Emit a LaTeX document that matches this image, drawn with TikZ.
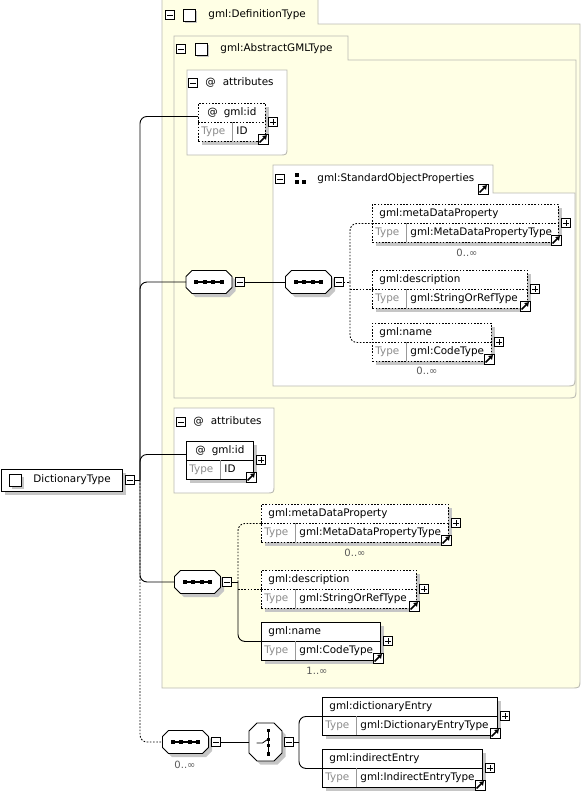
\documentclass[tikz,border=0pt]{standalone}
\usepackage{fontspec}
\setmainfont{DejaVu Sans}
\usetikzlibrary{arrows.meta,shadows}

\definecolor{schemabg}{RGB}{255,255,229}
\definecolor{frame}{RGB}{186,186,178}
\definecolor{shade}{RGB}{198,198,198}

\tikzstyle{txt}=[
	font=\fontsize{10.4}{12}\selectfont,
	inner sep=0pt,
	text height=7pt,
	text depth=2pt,
	anchor=west
]
\tikzstyle{greytxt}=[txt, text=black!45]
\tikzstyle{occurs}=[font=\fontsize{10}{12}\selectfont, inner sep=0pt, text=black!65]
\tikzstyle{container}=[draw=frame, fill=schemabg]
\tikzstyle{panel}=[draw=frame, fill=white]
\tikzstyle{boxshadow}=[drop shadow={shadow xshift=3.5pt, shadow yshift=-3.5pt, fill=shade, opacity=1}]
\tikzstyle{elementbox}=[
	rectangle,
	draw,
	fill=white,
	inner sep=0pt,
	anchor=north west,
	boxshadow
]
\tikzstyle{optional}=[dash pattern=on 1.6pt off 1.6pt]
\tikzstyle{required}=[]
\tikzstyle{toggle}=[rectangle, draw, fill=white, minimum size=9pt, inner sep=0pt, line width=0.7pt]
\tikzstyle{linkbox}=[rectangle, draw, fill=white, minimum size=10pt, inner sep=0pt, line width=0.8pt]
\tikzstyle{compositor}=[rectangle, inner sep=0pt, outer sep=0pt]
\tikzstyle{connector}=[rounded corners=7pt]
\tikzstyle{typeicon}=[
	rectangle,
	draw,
	fill=white,
	minimum size=12pt,
	inner sep=0pt,
	drop shadow={shadow xshift=2pt, shadow yshift=-2pt, fill=shade, opacity=1}
]

\newcommand{\minusbox}[2]{%
	\node[toggle] (#1) at #2 {};
	\draw[line width=0.8pt] ([xshift=2pt]#1.west) -- ([xshift=-2pt]#1.east);}
\newcommand{\plusbox}[2]{%
	\minusbox{#1}{#2}
	\draw[line width=0.8pt] ([yshift=2pt]#1.south) -- ([yshift=-2pt]#1.north);}
\newcommand{\linkicon}[2]{%
	\node[linkbox] (#1) at #2 {};
	\draw[line width=1.6pt, -{Triangle[length=4pt,width=5pt]}]
		([shift={(2pt,2pt)}]#1.south west) -- ([shift={(-1.5pt,-1.5pt)}]#1.north east);}
\newcommand{\groupicon}[2]{%
	\node[inner sep=0pt, minimum size=12pt] (#1) at #2 {};
	\foreach \sx/\sy in {-3.5/3.5, -3.5/-3.5, 3.5/-3.5}
		\fill ([shift={(\sx pt,\sy pt)}]#1.center) +(-2.2pt,-2.2pt) rectangle +(2.2pt,2.2pt);}
% octagon outline round a compositor node: name, chamfer
\newcommand{\octagon}[2]{%
	\draw[fill=white, boxshadow] ([xshift=#2]#1.north west) -- ([xshift=-#2]#1.north east)
		-- ([yshift=-#2]#1.north east) -- ([yshift=#2]#1.south east)
		-- ([xshift=-#2]#1.south east) -- ([xshift=#2]#1.south west)
		-- ([yshift=#2]#1.south west) -- ([yshift=-#2]#1.north west) -- cycle;}
% name, x, y, width, title, type, style
\newcommand{\xsdelement}[7]{%
	\node[elementbox, #7, minimum width=#4pt, minimum height=38pt] (#1) at (#2,#3) {};
	\draw[#7] (#2,#3+19) -- ++(#4,0);
	\draw[black!40] (#2+34,#3+19) -- ++(0,19);
	\node[txt] (#1-title) at (#2+7,#3+10) {#5};
	\node[greytxt] (#1-typelabel) at (#2+3,#3+29) {Type};
	\node[txt] (#1-type) at (#2+38,#3+29) {#6};
	\plusbox{#1-plus}{(#2+#4+8,#3+19)}
	\linkicon{#1-link}{(#2+#4-2,#3+36)}}
\newcommand{\xsdsequence}[2]{%
	\node[compositor, minimum width=46pt, minimum height=23pt] (#1) at #2 {};
	\octagon{#1}{6pt}
	\draw[line width=1.2pt] ([xshift=-13pt]#1.center) -- ([xshift=13pt]#1.center);
	\foreach \dx in {-12.75,-4.25,4.25,12.75}
		\fill ([xshift=\dx pt]#1.center) +(-1.9pt,-1.9pt) rectangle +(1.9pt,1.9pt);}
\newcommand{\xsdchoice}[2]{%
	\node[compositor, minimum width=33pt, minimum height=38pt] (#1) at #2 {};
	\octagon{#1}{8pt}
	\draw[line width=1pt] ([shift={(3pt,-13pt)}]#1.center) -- ([shift={(3pt,13pt)}]#1.center);
	\foreach \dy in {11.5,2.5,-3.5,-12}
		\fill ([shift={(3pt,\dy pt)}]#1.center) +(-1.9pt,-1.9pt) rectangle +(1.9pt,1.9pt);
	\draw[line width=0.8pt] ([shift={(-9pt,-1pt)}]#1.center) -- ([shift={(-3pt,-1pt)}]#1.center) -- ([shift={(2pt,2.5pt)}]#1.center);}

\begin{document}
\begin{tikzpicture}[x=1pt,y=-1pt,line width=0.9pt]
\useasboundingbox (0,0) rectangle (582,793);

% gml:DefinitionType
\draw[container] (162,-1) -- (318,-1) -- (318,24) -- (580,24) -- (580,679) .. controls (580,688) .. (571,688) -- (162,688) -- cycle;
\minusbox{defType-minus}{(170,15)}
\node[typeicon] (defType-icon) at (189,15) {};
\node[txt] (defType-title) at (208,15) {gml:DefinitionType};

% gml:AbstractGMLType
\draw[container] (174,36) -- (348,36) -- (348,60) -- (576,60) -- (576,389) .. controls (576,398) .. (567,398) -- (174,398) -- cycle;
\minusbox{abstract-minus}{(181,49)}
\node[typeicon] (abstract-icon) at (201,49) {};
\node[txt] (abstract-title) at (220,49) {gml:AbstractGMLType};

\draw[panel] (187,70) -- (287,70) -- (287,147) .. controls (287,155) .. (279,155) -- (187,155) -- cycle;
\minusbox{attrA-minus}{(193,83)}
\node[txt] (attrA-title) at (205,83) {@\hspace{7pt}attributes};
\xsdelement{idA}{198}{103}{67}{\hspace{2pt}@\hspace{6pt}gml:id}{ID}{optional}

% gml:StandardObjectProperties
\draw[panel] (273,165) -- (493,165) -- (493,193) -- (575,193) -- (575,377) .. controls (575,386) .. (566,386) -- (273,386) -- cycle;
\minusbox{group-minus}{(280,179)}
\groupicon{group-icon}{(300.5,178.5)}
\node[txt] (group-title) at (317,179) {gml:StandardObjectProperties};
\linkicon{group-link}{(483,189)}

\xsdelement{metaA}{372}{204}{186}{gml:metaDataProperty}{gml:MetaDataPropertyType}{optional}
\node[occurs] (metaA-occurs) at (467,253) {0..∞};
\xsdelement{descA}{372}{270}{155}{gml:description}{gml:StringOrRefType}{optional}
\xsdelement{nameA}{372}{323}{119}{gml:name}{gml:CodeType}{optional}
\node[occurs] (nameA-occurs) at (427,371) {0..∞};

\xsdsequence{seqProps}{(209,282)}
\minusbox{seqProps-minus}{(240,282)}
\xsdsequence{seqStd}{(308.5,282)}
\minusbox{seqStd-minus}{(339,282)}

% own attributes and elements
\draw[panel] (174,408) -- (274,408) -- (274,485) .. controls (274,493) .. (266,493) -- (174,493) -- cycle;
\minusbox{attrB-minus}{(181,422)}
\node[txt] (attrB-title) at (193,422) {@\hspace{7pt}attributes};
\xsdelement{idB}{186}{441}{67}{\hspace{2pt}@\hspace{6pt}gml:id}{ID}{required}

\xsdsequence{seqDict}{(197.5,582)}
\minusbox{seqDict-minus}{(227,582)}
\xsdelement{metaB}{261}{504}{187}{gml:metaDataProperty}{gml:MetaDataPropertyType}{optional}
\node[occurs] (metaB-occurs) at (355,553) {0..∞};
\xsdelement{descB}{261}{570}{155}{gml:description}{gml:StringOrRefType}{optional}
\xsdelement{nameB}{261}{622}{119}{gml:name}{gml:CodeType}{required}
\node[occurs] (nameB-occurs) at (317,671) {1..∞};

% entries
\xsdsequence{seqEntries}{(185.5,742)}
\minusbox{seqEntries-minus}{(216,742)}
\node[occurs] (seqEntries-occurs) at (185,765) {0..∞};
\xsdchoice{choiceEntry}{(265.5,742)}
\minusbox{choiceEntry-minus}{(289,742)}
\xsdelement{dictEntry}{322}{697}{175}{gml:dictionaryEntry}{gml:DictionaryEntryType}{required}
\xsdelement{indEntry}{322}{749}{160}{gml:indirectEntry}{gml:IndirectEntryType}{required}

% root
\node[elementbox, minimum width=121pt, minimum height=22pt] (dictType) at (1,469) {};
\node[typeicon] (dictType-icon) at (15.5,480.5) {};
\node[txt] (dictType-title) at (33,480) {DictionaryType};
\minusbox{dictType-minus}{(130,480)}

% connectors
\coordinate (trunk) at (140,480);
\draw (dictType-minus.east) -- (trunk);
\draw[connector] (trunk) |- ([yshift=6pt]idA.west);
\draw[connector] (trunk) |- (seqProps.west);
\draw[connector] (trunk) |- ([yshift=6pt]idB.west);
\draw[connector] (trunk) |- (seqDict.west);
\draw[connector, optional] (trunk) |- (seqEntries.west);

\draw (seqProps-minus.east) -- (seqStd.west);
\coordinate (jStd) at (350,282);
\draw[optional] (seqStd-minus.east) -- (jStd);
\draw[connector, optional] (jStd) |- (metaA.west);
\draw[connector, optional] (jStd) |- (nameA.west);
\draw[optional] (jStd |- descA.west) -- (descA.west);

\coordinate (jDict) at (238,582);
\draw (seqDict-minus.east) -- (jDict);
\draw[connector, optional] (jDict) |- (metaB.west);
\draw[optional] (jDict |- descB.west) -- (descB.west);
\draw[connector] (jDict) |- (nameB.west);

\draw (seqEntries-minus.east) -- (choiceEntry.west);
\coordinate (jEntry) at (299,742);
\draw (choiceEntry-minus.east) -- (jEntry);
\draw[connector] (jEntry) |- (dictEntry.west);
\draw[connector] (jEntry) |- (indEntry.west);
\end{tikzpicture}
\end{document}
